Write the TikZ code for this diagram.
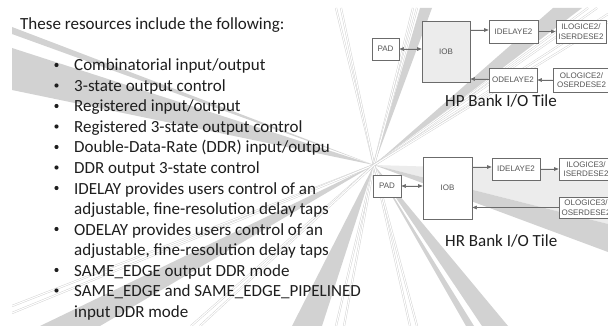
\documentclass[tikz,border=0pt]{standalone}
\usepackage{fontspec}
\setmainfont{Carlito}
\newfontfamily\diagfont{Liberation Sans}
\usetikzlibrary{arrows.meta}
\definecolor{raygray}{HTML}{D2D2D2}
\definecolor{raylight}{HTML}{ECECEC}
\definecolor{boxline}{HTML}{6B6B6B}
\definecolor{boxtext}{HTML}{555555}
\definecolor{bodytext}{HTML}{1E1E1E}
\tikzset{
  ray/.style={fill=raygray},
  raylite/.style={fill=raylight},
  rayline/.style={draw=raygray, line width=0.45pt, double=white, double distance=1.1pt},
  blk/.style={draw=boxline, line width=0.7pt, fill=white, inner sep=0pt,
    font=\diagfont\fontsize{8}{9.5}\selectfont, text=boxtext, align=center},
  tip/.tip={Triangle[length=4.5pt,width=3.6pt]},
  arr/.style={draw=boxline, fill=boxline, line width=0.6pt, -tip},
  darr/.style={draw=boxline, fill=boxline, line width=0.6pt, tip-tip},
  body/.style={font=\fontsize{17}{20.5}\selectfont, text=bodytext, inner sep=0pt, anchor=base west},
  bul/.style={circle, fill=bodytext, inner sep=0pt, minimum size=4.2pt},
}
\begin{document}
\begin{tikzpicture}[x=1pt,y=-1pt]
\clip (0,0) rectangle (608,326);
\fill[white] (0,0) rectangle (608,326);

% radiating background
\coordinate (C) at (374,165);
\begin{scope}
  \clip (12,8) rectangle (608,326);
  \fill[raylite] (C) -- (608,172) -- (608,224) -- cycle;
  \fill[ray] (C) -- (608,224) -- (608,252) -- cycle;
  \fill[ray] (C) -- (12,27) -- (12,34) -- cycle;
  \fill[ray] (C) -- (12,48) -- (12,90) -- cycle;
  \fill[ray] (C) -- (40,326) -- (100,326) -- cycle;
  \fill[ray] (C) -- (292,326) -- (322,326) -- cycle;
  \fill[ray] (C) -- (466,326) -- (474,326) -- cycle;
  \fill[ray] (C) -- (482,326) -- (508,326) -- cycle;
  \fill[ray] (C) -- (420,8) -- (432,8) -- cycle;
  \fill[ray] (C) -- (553,8) -- (582,8) -- cycle;
  \foreach \p in {(12,306),(12,313),(336,326),(344,326),(410,326),(417,326),
                  (336,8),(341,8),(413,8),(417,8),(588,8),(597,8),(608,14),(608,22),
                  (191,326),(200,326)}
    \draw[rayline] (C) -- \p;
\end{scope}

% text column
\node[body] (head) at (20,30) {These resources include the following:};
\foreach \k/\b in {0/71,1/91.5,2/112,3/132.5,4/153,5/173.5,6/194,8/235,10/276,11/296.5}
  \node[bul] (dot\k) at (56.5,\b-6) {};
\node[body] (l0) at (74,71) {Combinatorial input/output};
\node[body] (l1) at (74,91.5) {3-state output control};
\node[body] (l2) at (74,112) {Registered input/output};
\node[body] (l3) at (74,132.5) {Registered 3-state output control};
\node[body] (l4) at (74,153) {Double-Data-Rate (DDR) input/outpu};
\node[body] (l5) at (74,173.5) {DDR output 3-state control};
\node[body] (l6) at (74,194) {IDELAY provides users control of an};
\node[body] (l7) at (74,214.5) {adjustable, fine-resolution delay taps};
\node[body] (l8) at (74,235) {ODELAY provides users control of an};
\node[body] (l9) at (74,255.5) {adjustable, fine-resolution delay taps};
\node[body] (l10) at (74,276) {SAME\_EDGE output DDR mode};
\node[body] (l11) at (74,296.5) {SAME\_EDGE and SAME\_EDGE\_PIPELINED};
\node[body] (l12) at (74,317) {input DDR mode};

% HP bank tile
\node[blk, minimum width=27pt, minimum height=22pt] (padA) at (385.5,49) {PAD};
\node[blk, fill=raylight, minimum width=48pt, minimum height=61pt] (iobA) at (446,51.5) {IOB};
\node[blk, minimum width=49pt, minimum height=23pt] (ideA) at (513.5,31.5) {IDELAYE2};
\node[blk, minimum width=50pt, minimum height=23pt] (ilogA) at (581,31.5) {ILOGICE2/\\ISERDESE2};
\node[blk, minimum width=48pt, minimum height=24pt] (odeA) at (513,80) {ODELAYE2};
\node[blk, minimum width=57pt, minimum height=24pt] (ologA) at (581.5,80) {OLOGICE2/\\OSERDESE2};
\draw[darr] (padA.east) -- (padA.east -| iobA.west);
\draw[arr] (iobA.east |- 0,30) -- (ideA.west |- 0,30);
\draw[arr] (ideA.east) -- (ilogA.west);
\draw[arr] (ologA.west) -- (odeA.east);
\draw[arr] (odeA.west |- 0,79) -- (iobA.east |- 0,79);
\node[body] (capA) at (445,107) {HP Bank I/O Tile};

% HR bank tile
\node[blk, minimum width=28pt, minimum height=22pt] (padB) at (387,186) {PAD};
\node[blk, minimum width=49pt, minimum height=62pt] (iobB) at (447.5,188) {IOB};
\node[blk, minimum width=48pt, minimum height=22pt] (ideB) at (516,169) {IDELAYE2};
\node[blk, minimum width=54pt, minimum height=22pt] (ilogB) at (586,169) {ILOGICE3/\\ISERDESE2};
\node[blk, minimum width=54pt, minimum height=21pt] (ologB) at (586,207.5) {OLOGICE3/\\OSERDESE2};
\draw[darr] (padB.east) -- (padB.east -| iobB.west);
\draw[arr] (iobB.east |- 0,167) -- (ideB.west |- 0,167);
\draw[arr] (ideB.east) -- (ilogB.west);
\draw[arr] (ologB.west) -- (ologB.west -| iobB.east);
\node[body] (capB) at (445,246) {HR Bank I/O Tile};
\end{tikzpicture}
\end{document}
